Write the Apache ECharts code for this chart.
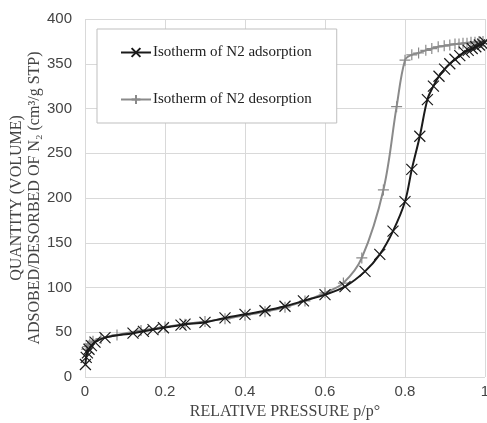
<!DOCTYPE html>
<html><head><meta charset="utf-8">
<script src="https://cdn.jsdelivr.net/npm/echarts@6/dist/echarts.min.js"></script>
<style>html,body{margin:0;padding:0;background:#fff}#c{width:487px;height:423px}</style>
</head><body><div id="c"></div>
<script>
var adsX = [0.001,0.003,0.006,0.010,0.016,0.025,0.05,0.12,0.146,0.17,0.196,0.24,0.25,0.30,0.35,0.40,0.45,0.50,0.546,0.60,0.65,0.70,0.737,0.77,0.80,0.817,0.837,0.856,0.871,0.885,0.899,0.912,0.925,0.937,0.948,0.958,0.968,0.977,0.986,0.994,1.0];
var adsY = [14,22,27,31,35,39,44,49,51,53,55,58,59,61,66,70,74,79,85,92,101,118,137,163,196,232,269,310,325,336,344,350,355,359,363,365,367,369,371,372,374];
var desX = [0.995,0.985,0.975,0.965,0.955,0.945,0.935,0.925,0.912,0.898,0.883,0.867,0.852,0.834,0.817,0.80,0.779,0.746,0.692,0.646,0.60,0.55,0.50,0.45,0.40,0.35,0.30,0.25,0.20,0.14,0.08,0.04,0.02,0.012,0.007,0.004];
var desY = [375,375,374,374,373,373,372,372,371,370,369,367,365,362,360,354,302,209,133,105,94,85,78,73,69,65,62,59,56,52,47,43,40,37,34,31];
var xTicks = [0,0.2,0.4,0.6,0.8,1];
var yTicks = [0,50,100,150,200,250,300,350,400];
var seriesNames = ['Isotherm of N2 adsorption','Isotherm of N2 desorption'];

function pairs(xs, ys){ return xs.map(function(x,i){ return [x, ys[i]]; }); }

var chart = echarts.init(document.getElementById('c'), null, {renderer:'canvas'});
chart.setOption({
  animation: false,
  backgroundColor: '#fff',
  grid: {left: 85, right: 2, top: 19, bottom: 46, containLabel: false, outerBoundsMode: 'none'},
  legend: {
    orient: 'vertical', left: 97, top: 29,
    padding: [16, 25, 16, 23], itemGap: 32,
    itemWidth: 30, itemHeight: 11,
    backgroundColor: '#fff', borderColor: '#bfbfbf', borderWidth: 1, borderRadius: 0,
    textStyle: {fontFamily: 'Liberation Serif', fontSize: 15, color: '#222', padding: [0,0,0,-3]},
    data: seriesNames
  },
  xAxis: {
    type: 'value', min: xTicks[0], max: xTicks[xTicks.length-1], interval: 0.2,
    name: 'RELATIVE PRESSURE p/p°', nameLocation: 'middle', nameGap: 27, nameMoveOverlap: false,
    nameTextStyle: {fontFamily: 'Liberation Serif', fontSize: 16, color: '#444'},
    axisLine: {show: false}, axisTick: {show: false},
    axisLabel: {fontFamily: 'Liberation Sans', fontSize: 15, color: '#444', margin: 7,
      formatter: function(v){ return xTicks.indexOf(Math.round(v*10)/10) >= 0 ? String(Math.round(v*10)/10) : ''; }},
    splitLine: {show: true, lineStyle: {color: '#d9d9d9', width: 1}}
  },
  yAxis: {
    type: 'value', min: yTicks[0], max: yTicks[yTicks.length-1], interval: 50,
    name: 'QUANTITY (VOLUME)\nADSOBED/DESORBED OF N₂ (cm³/g STP)',
    nameLocation: 'middle', nameGap: 41, nameRotate: 90, nameMoveOverlap: false,
    nameTextStyle: {fontFamily: 'Liberation Serif', fontSize: 16, color: '#444', lineHeight: 18},
    axisLine: {show: false}, axisTick: {show: false},
    axisLabel: {fontFamily: 'Liberation Sans', fontSize: 15, color: '#444', margin: 13},
    splitLine: {show: true, lineStyle: {color: '#d9d9d9', width: 1}}
  },
  series: [
    {
      name: seriesNames[0], type: 'line', data: pairs(adsX, adsY),
      smooth: 0.35,
      symbol: 'path://M0,0L10,10M10,0L0,10', symbolSize: 11, showAllSymbol: true,
      lineStyle: {color: '#1a1a1a', width: 2},
      itemStyle: {color: 'rgba(0,0,0,0)', borderColor: '#1a1a1a', borderWidth: 1.2},
      z: 3
    },
    {
      name: seriesNames[1], type: 'line', data: pairs(desX, desY),
      smooth: 0.35,
      symbol: 'path://M5,0L5,10M0,5L10,5', symbolSize: [11, 11], showAllSymbol: true,
      lineStyle: {color: '#8a8a8a', width: 2},
      itemStyle: {color: 'rgba(0,0,0,0)', borderColor: '#8a8a8a', borderWidth: 1.2},
      z: 2
    }
  ]
});
</script></body></html>
